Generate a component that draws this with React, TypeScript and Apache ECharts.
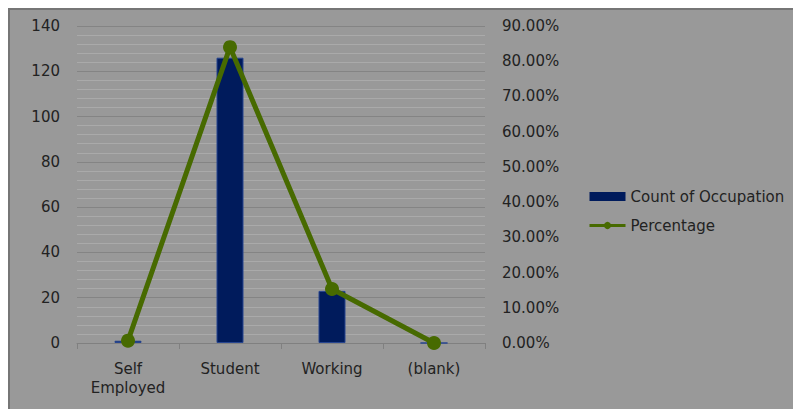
import React, { useEffect, useRef } from "react";
import * as echarts from "echarts";

const categories = ["Self\nEmployed", "Student", "Working", "(blank)"];
const countValues = [1, 126, 23, 0];
const percentValues = [0.0067, 0.84, 0.1533, 0];
const leftTicks = { min: 0, max: 140, interval: 20 };
const rightTicks = { min: 0, max: 0.9, interval: 0.1 };

const FONT = "DejaVu Sans";
const TEXT = "#222222";

export default function App() {
  const ref = useRef<HTMLDivElement>(null);
  useEffect(() => {
    if (!ref.current) return;
    const chart = echarts.init(ref.current, null, { renderer: "svg" });
    chart.setOption({
      animation: false,
      backgroundColor: "#999999",
      textStyle: { fontFamily: FONT, color: TEXT },
      grid: { left: 67, right: 308, top: 16, bottom: 66 },
      legend: {
        orient: "vertical",
        left: 578,
        top: 179,
        padding: 0,
        itemWidth: 36,
        itemHeight: 9,
        itemGap: 14,
        textStyle: { fontFamily: FONT, fontSize: 15, color: TEXT },
        data: [
          { name: "Count of Occupation", icon: "rect", itemStyle: { borderWidth: 0 } },
          { name: "Percentage", lineStyle: { width: 3 } },
        ],
      },
      xAxis: {
        type: "category",
        data: categories,
        boundaryGap: true,
        axisLine: { lineStyle: { color: "#808080", width: 1 } },
        axisTick: { show: true, alignWithLabel: false, length: 6, lineStyle: { color: "#808080" } },
        axisLabel: { fontFamily: FONT, fontSize: 15, color: TEXT, margin: 16, lineHeight: 19, interval: 0 },
      },
      yAxis: [
        {
          type: "value",
          min: leftTicks.min,
          max: leftTicks.max,
          interval: leftTicks.interval,
          axisLine: { show: false },
          axisTick: { show: false },
          axisLabel: { fontFamily: FONT, fontSize: 15, color: TEXT, margin: 17 },
          splitLine: { show: true, lineStyle: { color: "#848484", width: 1 } },
          minorTick: { show: false, splitNumber: 5 },
          minorSplitLine: { show: true, lineStyle: { color: "#aaaaaa", width: 1 } },
        },
        {
          type: "value",
          min: rightTicks.min,
          max: rightTicks.max,
          interval: rightTicks.interval,
          axisLine: { show: false },
          axisTick: { show: false },
          splitLine: { show: false },
          axisLabel: {
            fontFamily: FONT,
            fontSize: 15,
            color: TEXT,
            margin: 17,
            formatter: (v: number) => (v * 100).toFixed(2) + "%",
          },
        },
      ],
      series: [
        {
          name: "Count of Occupation",
          type: "bar",
          data: countValues,
          barWidth: 27,
          yAxisIndex: 0,
          itemStyle: { color: "#001b5c", borderColor: "#27458f", borderWidth: 1 },
        },
        {
          name: "Percentage",
          type: "line",
          data: percentValues,
          yAxisIndex: 1,
          symbol: "circle",
          symbolSize: 14,
          itemStyle: { color: "#476a00" },
          lineStyle: { color: "#476a00", width: 5 },
        },
      ],
    });
    return () => chart.dispose();
  }, []);
  return (
    <div
      style={{
        position: "fixed",
        left: 8,
        top: 8,
        width: 785,
        height: 401,
        boxSizing: "border-box",
        borderTop: "2px solid #767676",
        borderLeft: "2px solid #767676",
        background: "#999999",
      }}
    >
      <div ref={ref} style={{ width: 783, height: 399 }} />
    </div>
  );
}
